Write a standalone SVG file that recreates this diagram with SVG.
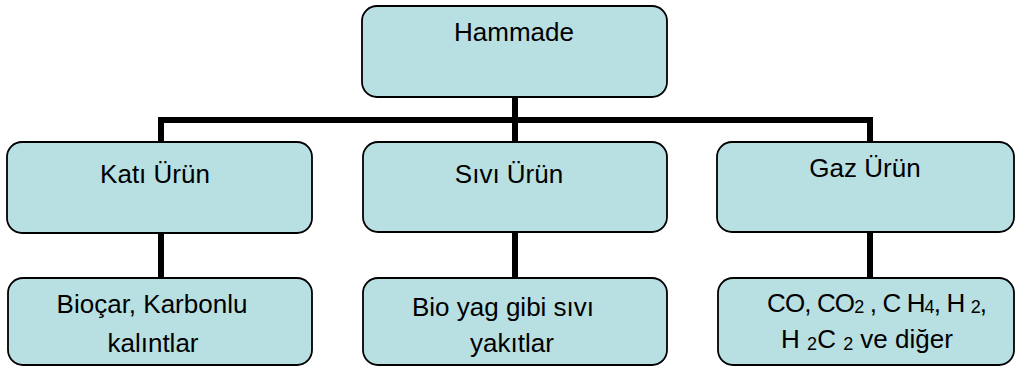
<svg xmlns="http://www.w3.org/2000/svg" width="1016" height="367" viewBox="0 0 1016 367">
<style>
.box{fill:#b8dfe2;stroke:#000;stroke-width:1.8}
.t{font-family:"Liberation Sans",Arial,sans-serif;font-size:26px;fill:#000;text-anchor:middle}
.s{font-size:18px}
.c{fill:none;stroke:#000;stroke-width:6;stroke-linejoin:miter}
</style>
<g id="connectors">
<path class="c" d="M515 97V142"/>
<path class="c" d="M161 142V120H870V142"/>
<path class="c" d="M161 233V278"/>
<path class="c" d="M515 232V278"/>
<path class="c" d="M870 232V278"/>
</g>
<g id="hammade">
<rect class="box" x="362" y="6" width="305" height="91" rx="15"/>
<text class="t" x="514" y="41">Hammade</text>
</g>
<g id="kati">
<rect class="box" x="7" y="142" width="305" height="91" rx="15"/>
<text class="t" x="155" y="183">Katı Ürün</text>
</g>
<g id="sivi">
<rect class="box" x="363" y="142" width="304" height="90" rx="15"/>
<text class="t" x="509" y="183">Sıvı Ürün</text>
</g>
<g id="gaz">
<rect class="box" x="717" y="142" width="297" height="90" rx="15"/>
<text class="t" x="865" y="177">Gaz Ürün</text>
</g>
<g id="biocar">
<rect class="box" x="8" y="278" width="304" height="87" rx="15"/>
<text class="t" x="152" y="313">Bioçar, Karbonlu</text>
<text class="t" x="153" y="352">kalıntlar</text>
</g>
<g id="bioyag">
<rect class="box" x="363" y="278" width="304" height="87" rx="15"/>
<text class="t" x="503" y="316">Bio yag gibi sıvı</text>
<text class="t" x="512" y="352">yakıtlar</text>
</g>
<g id="gazlar">
<rect class="box" x="718" y="278" width="296" height="87" rx="15"/>
<text class="t" x="877" y="312" textLength="220" lengthAdjust="spacing">CO, CO<tspan class="s" dy="1">2</tspan><tspan dy="-1"> , C H</tspan><tspan class="s" dy="1">4</tspan><tspan dy="-1">, H </tspan><tspan class="s" dy="1">2</tspan><tspan dy="-1">,</tspan></text>
<text class="t" x="867" y="348">H <tspan class="s" dy="2">2</tspan><tspan dy="-2">C </tspan><tspan class="s" dy="2">2</tspan><tspan dy="-2"> ve diğer</tspan></text>
</g>
</svg>
